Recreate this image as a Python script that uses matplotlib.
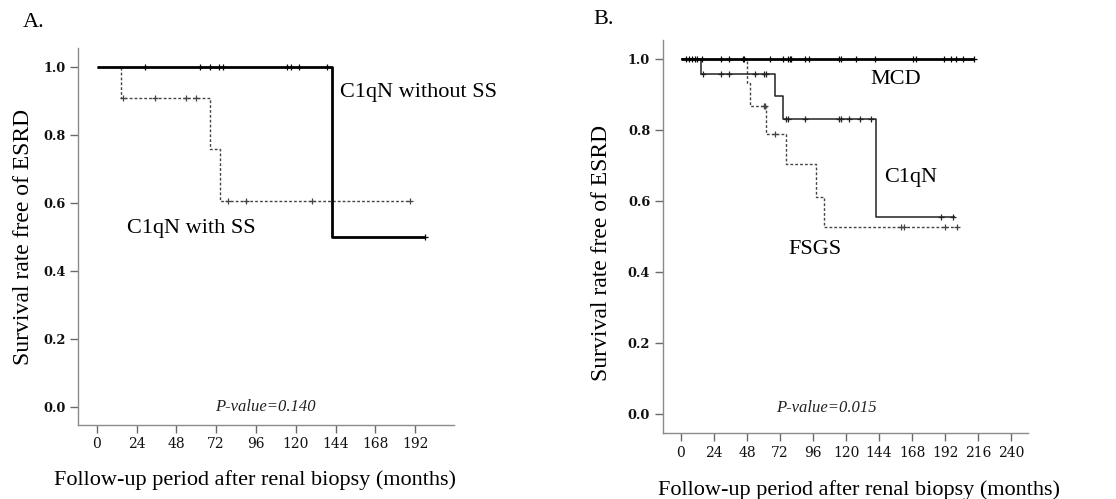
import numpy as np
import matplotlib
matplotlib.use('Agg')
import matplotlib.pyplot as plt

plt.rcParams['font.family'] = ['Liberation Serif', 'DejaVu Serif']

# Panel A: C1qN with / without SS
a_nos_drop_t = [142]
a_nos_drop_s = [0.5]
a_nos_censor = [29, 62, 68, 74, 76, 115, 117, 122, 139, 198]
a_nos_end = 198

a_ss_drop_t = [14.5, 68.5, 74.5]
a_ss_drop_s = [0.909, 0.758, 0.606]
a_ss_censor = [16, 35, 54, 60, 79, 90, 130, 189]
a_ss_end = 189

# Panel B: MCD / C1qN / FSGS
b_mcd_drop_t = []
b_mcd_drop_s = []
b_mcd_censor = [4, 6, 8, 10, 12, 15, 29, 35, 45, 46, 65, 74, 78, 79, 80,
                90, 93, 115, 116, 127, 141, 169, 171, 191, 196, 200, 205, 213]
b_mcd_end = 213

b_c1q_drop_t = [14.5, 68.5, 74, 142]
b_c1q_drop_s = [0.958, 0.895, 0.832, 0.555]
b_c1q_censor = [16, 29, 35, 54, 60, 62, 76, 78, 90, 115, 116, 122, 130, 138, 189, 198]
b_c1q_end = 199

b_fsgs_drop_t = [48, 50, 62, 76, 98, 104]
b_fsgs_drop_s = [0.933, 0.867, 0.79, 0.704, 0.613, 0.526]
b_fsgs_censor = [60, 61, 68, 160, 162, 192, 201]
b_fsgs_end = 202

x_ticks_a = [0, 24, 48, 72, 96, 120, 144, 168, 192]
x_ticks_b = [0, 24, 48, 72, 96, 120, 144, 168, 192, 216, 240]
y_ticks = [0.0, 0.2, 0.4, 0.6, 0.8, 1.0]


def km_curve(ax, drop_t, drop_s, censor, end, **kw):
    t = np.array([0] + list(drop_t) + [end], dtype=float)
    s = np.array([1.0] + list(drop_s) + [drop_s[-1] if drop_s else 1.0])
    ax.step(t, s, where='post', solid_capstyle='butt', **kw)
    idx = np.searchsorted(t[:-1], censor, side='right') - 1
    ax.plot(censor, s[idx], linestyle='none', marker='+', markersize=5,
            markeredgewidth=0.9, color=kw.get('color', 'black'))


def style_axes(ax, xticks, xlim, xlab_pos, ylab_pos):
    for side in ['top', 'right']:
        ax.spines[side].set_visible(False)
    for side in ['left', 'bottom']:
        ax.spines[side].set_color('#8a8a8a')
        ax.spines[side].set_linewidth(1.0)
    ax.set_xticks(xticks)
    ax.set_yticks(y_ticks)
    ax.set_yticklabels(['%.1f' % v for v in y_ticks])
    ax.tick_params(direction='out', length=6, width=1.0, color='#6a6a6a', pad=3)
    for lab in ax.get_xticklabels() + ax.get_yticklabels():
        lab.set_fontfamily('DejaVu Serif')
        lab.set_fontsize(10)
        lab.set_color('#111111')
    for lab in ax.get_yticklabels():
        lab.set_fontweight('bold')
        lab.set_fontsize(9.3)
    ax.set_xlim(*xlim)
    ax.set_ylim(-0.054, 1.054)
    ax.set_xlabel('Follow-up period after renal biopsy (months)', fontsize=16, va='center')
    ax.set_ylabel('Survival rate free of ESRD', fontsize=17, va='center')
    ax.xaxis.set_label_coords(*xlab_pos)
    ax.yaxis.set_label_coords(*ylab_pos)


fig = plt.figure(figsize=(11.16, 4.99), dpi=100)

axA = fig.add_axes([0.0702, 0.1483, 0.3367, 0.755])
km_curve(axA, a_ss_drop_t, a_ss_drop_s, a_ss_censor, a_ss_end,
         color='#444444', linewidth=1.0, linestyle=(0, (2, 1.5)))
km_curve(axA, a_nos_drop_t, a_nos_drop_s, a_nos_censor, a_nos_end,
         color='black', linewidth=2.0)
style_axes(axA, x_ticks_a, (-11.1, 215.5), (0.470, -0.146), (-0.147, 0.499))
axA.text(146.5, 0.925, 'C1qN without SS', fontsize=16, va='center')
axA.text(18.3, 0.525, 'C1qN with SS', fontsize=16, va='center')
axA.text(102, 0.0, 'P-value=0.140', fontsize=12, style='italic', ha='center', va='center',
         color='#222222')
fig.text(0.020, 0.955, 'A.', fontsize=16, va='center')

axB = fig.add_axes([0.5938, 0.1317, 0.327, 0.788])
km_curve(axB, b_fsgs_drop_t, b_fsgs_drop_s, b_fsgs_censor, b_fsgs_end,
         color='#444444', linewidth=1.0, linestyle=(0, (2, 1.5)))
km_curve(axB, b_c1q_drop_t, b_c1q_drop_s, b_c1q_censor, b_c1q_end,
         color='#222222', linewidth=1.1)
km_curve(axB, b_mcd_drop_t, b_mcd_drop_s, b_mcd_censor, b_mcd_end,
         color='black', linewidth=2.0)
style_axes(axB, x_ticks_b, (-13.3, 252), (0.538, -0.144), (-0.169, 0.458))
axB.text(138, 0.942, 'MCD', fontsize=16, va='center')
axB.text(147.6, 0.666, 'C1qN', fontsize=16, va='center')
axB.text(77.8, 0.463, 'FSGS', fontsize=16, va='center')
axB.text(105.5, 0.018, 'P-value=0.015', fontsize=12, style='italic', ha='center', va='center',
         color='#222222')
fig.text(0.532, 0.96, 'B.', fontsize=16, va='center')

plt.savefig('out.png', dpi=100)
plt.close()
